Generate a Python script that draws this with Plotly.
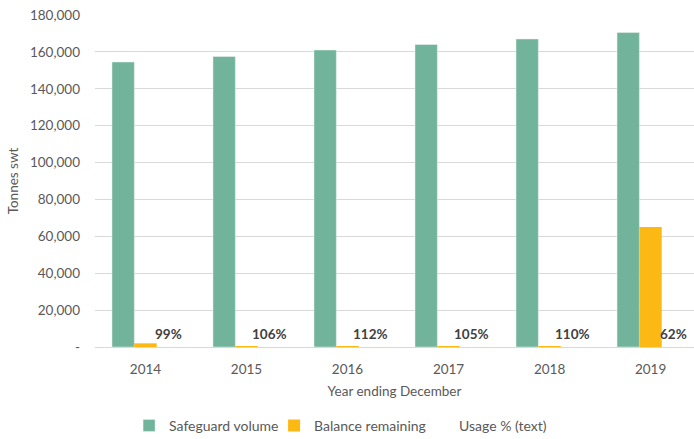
import plotly.graph_objects as go

years = ["2014", "2015", "2016", "2017", "2018", "2019"]
safeguard_volume = [154500, 157500, 161000, 164000, 167000, 170500]
balance_remaining = [2000, 300, 300, 300, 300, 65000]
usage_pct = ["99%", "106%", "112%", "105%", "110%", "62%"]
usage_base = [0, 0, 0, 0, 0, 0]

y_ticks = [0, 20000, 40000, 60000, 80000, 100000, 120000, 140000, 160000, 180000]
y_tick_text = ["-", "20,000", "40,000", "60,000", "80,000", "100,000", "120,000", "140,000", "160,000", "180,000"]

FONT = "Lato, Open Sans, sans-serif"

fig = go.Figure()
fig.add_trace(go.Bar(x=years, y=safeguard_volume, name="Safeguard volume",
                     marker=dict(color="#72B49B", line=dict(color="#E8F3EE", width=0.5))))
fig.add_trace(go.Bar(x=years, y=balance_remaining, name="Balance remaining",
                     marker=dict(color="#FDB913", line=dict(width=0))))
fig.add_trace(go.Bar(x=years, y=usage_base, name="Usage % (text)",
                     marker=dict(color="rgba(0,0,0,0)", line=dict(width=0))))

for i, txt in enumerate(usage_pct):
    fig.add_annotation(x=i, y=0, xref="x", yref="y", text="<b>" + txt + "</b>", showarrow=False,
                       xanchor="center", yanchor="bottom", xshift=22.5, yshift=3,
                       font=dict(family=FONT, size=13.5, color="#404040"))

fig.update_layout(
    width=694, height=439,
    margin=dict(l=95, r=0, t=15, b=92, autoexpand=False),
    paper_bgcolor="white", plot_bgcolor="white",
    barmode="group", bargap=0.336, bargroupgap=0,
    font=dict(family=FONT, size=13.5, color="#595959"),
    showlegend=True,
    legend=dict(orientation="h", x=0.42, xanchor="center",
                yref="container", y=0.03, yanchor="middle",
                font=dict(family=FONT, size=14, color="#595959"), itemwidth=30,
                entrywidth=100, entrywidthmode="pixels",
                traceorder="normal"),
)
fig.update_xaxes(type="category", range=[-0.5, 5.43], showgrid=False, showline=True, linecolor="#D9D9D9",
                 ticks="", automargin=False, ticklabelstandoff=10,
                 tickfont=dict(size=13.5, color="#595959"),
                 title=dict(text="Year ending December", font=dict(size=13.5, color="#595959"), standoff=10))
fig.update_yaxes(range=[0, 180000], tickvals=y_ticks, ticktext=y_tick_text,
                 showgrid=True, gridcolor="#D9D9D9", gridwidth=1, zeroline=False,
                 ticks="", automargin=False, ticklabelstandoff=14,
                 tickfont=dict(size=13.5, color="#595959"),
                 title=dict(text="Tonnes swt", font=dict(size=13.5, color="#595959"), standoff=8))

fig.write_html("out.html", config={"displayModeBar": False},
               post_script="document.body.style.margin='0';document.body.style.padding='0';")
